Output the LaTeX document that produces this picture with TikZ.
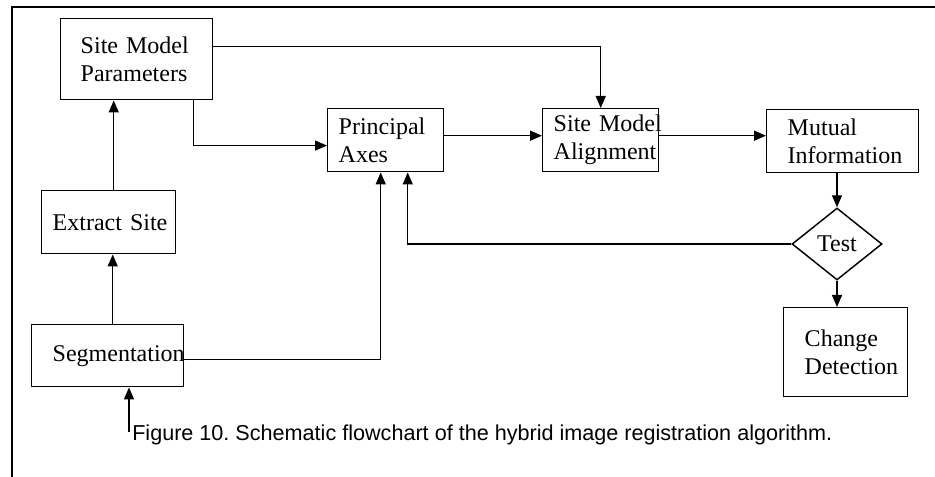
\documentclass[tikz,border=0pt]{standalone}
\usepackage{fontspec}
\setmainfont{Liberation Serif}
\newfontfamily\capfont{Liberation Sans}
\usetikzlibrary{arrows.meta,shapes.geometric}

\tikzset{
  box/.style={draw, line width=1.1pt, align=left, anchor=north west, inner ysep=0pt,
    font=\fontsize{18}{21}\selectfont},
  arr/.style={line width=1.1pt, -{Triangle[length=9pt,width=7.5pt]}},
}

\begin{document}
\begin{tikzpicture}[x=0.75pt, y=-0.75pt]
  \useasboundingbox (0,0) rectangle (935,477);
  % The frame
  \draw[line width=1.3pt] (12,477) -- (12,7) -- (935,7);

  % The left column (Site model)
  \node[box, text width=84pt, inner xsep=15pt, minimum height=60.75pt] (smp) at (60,18) {Site~Model\\Parameters};
  \node[box, text width=84pt, inner xsep=8.25pt, minimum height=47.25pt] (ext) at (41,190) {Extract~Site};
  \node[box, text width=82.5pt, inner xsep=15.75pt, minimum height=46.5pt] (seg) at (31,324) {Segmentation};
  \coordinate (src) at (129,432);

  % The registration chain
  \node[box, text width=70.5pt, inner xsep=8.25pt, minimum height=47.25pt] (pa) at (327,108) {Principal\\Axes};
  \node[box, text width=70.5pt, inner xsep=8.25pt, minimum height=47.25pt] (sma) at (542,108) {Site~Model\\Alignment};
  \node[box, text width=82.5pt, inner xsep=15.75pt, minimum height=47.25pt] (mi) at (766,109) {Mutual\\Information};
  \node[draw, diamond, line width=1.1pt, inner sep=0pt, minimum width=67.5pt, minimum height=54pt,
    font=\fontsize{18}{21}\selectfont] (test) at (837,244) {Test};
  \node[box, text width=61.5pt, inner xsep=15.75pt, minimum height=66.75pt] (cd) at (783,307) {Change\\Detection};

  % Connectors
  \draw[arr] (src) -- (src |- seg.south);
  \draw[arr] ([xshift=3.75pt]seg.north) -- ([xshift=3.75pt]seg.north |- ext.south);
  \draw[arr] ([xshift=3.75pt]ext.north) -- ([xshift=3.75pt]ext.north |- smp.south);
  \draw[arr] ([yshift=9.4pt]smp.east) -| (sma.north);
  \draw[arr] ([xshift=42.75pt]smp.south) |- ([yshift=-4pt]pa.west);
  \draw[arr] ([yshift=-3pt]seg.east) -| ([xshift=-3.75pt]pa.south);
  \draw[arr] ([yshift=3.4pt]pa.east) -- ([yshift=3.4pt]sma.west);
  \draw[arr] ([yshift=3.4pt]sma.east) -- ([yshift=3.4pt]sma.east -| mi.west);
  \draw[arr] (test.north |- mi.south) -- (test.north);
  \draw[arr] (test.south) -- (test.south |- cd.north);
  \draw[arr] (test.west) -| ([xshift=16.5pt]pa.south);

  % Caption
  \node[anchor=base west, inner sep=0pt, font=\capfont\fontsize{16.2}{19}\selectfont] (cap) at (132,440)
    {\frenchspacing Figure 10. Schematic flowchart of the hybrid image registration algorithm.};
\end{tikzpicture}
\end{document}
